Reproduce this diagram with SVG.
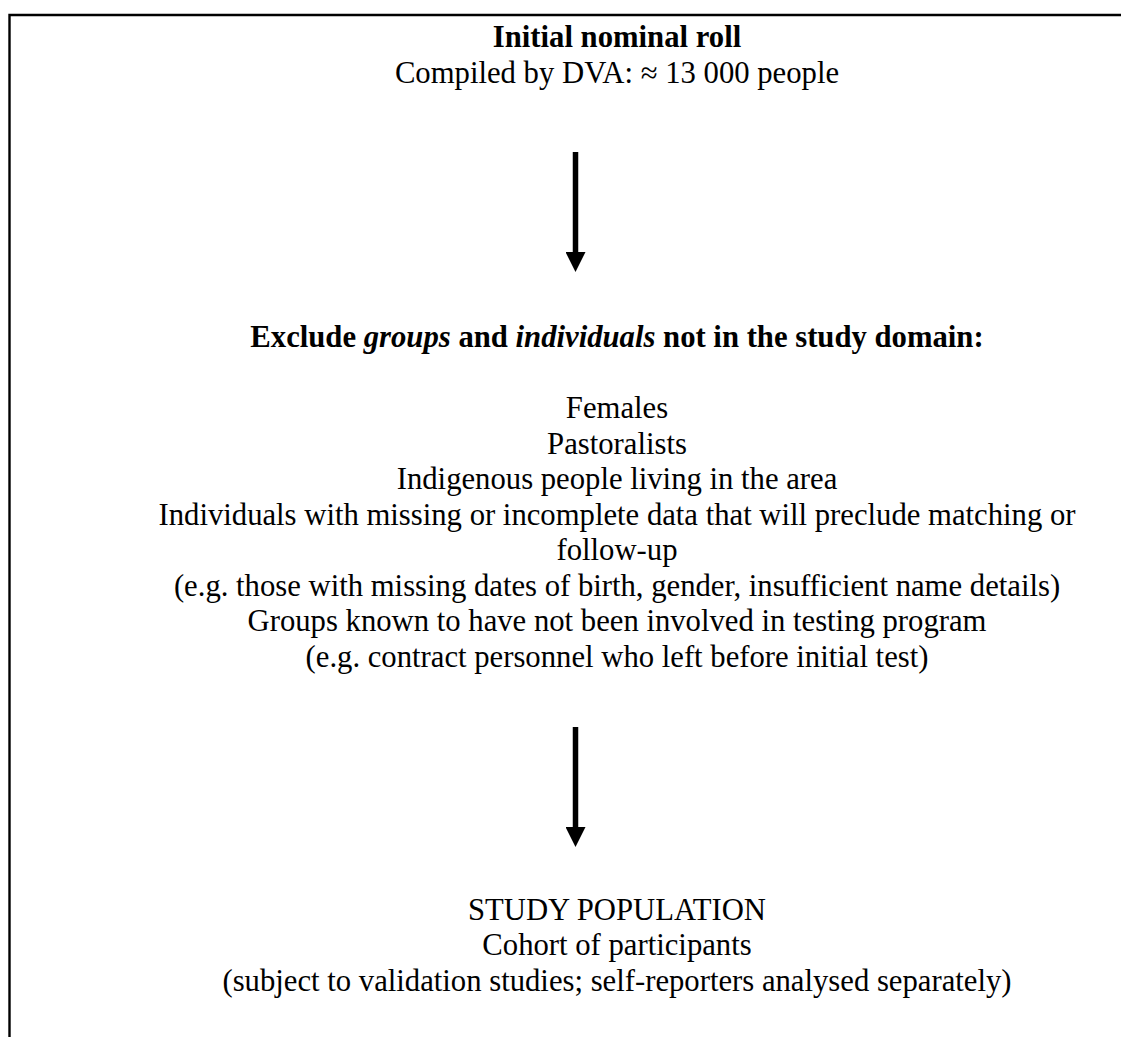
<svg xmlns="http://www.w3.org/2000/svg" width="1121" height="1037" viewBox="0 0 1121 1037">
<style>
text{font-family:"Liberation Serif","Times New Roman",serif;font-size:30.7px;fill:#000;text-anchor:middle}
.b{font-weight:bold}
.i{font-style:italic}
.border{fill:none;stroke:#000;stroke-width:2.4}
.conn{stroke:#000;stroke-width:5.5;fill:none}
</style>
<defs>
<marker id="ah" markerUnits="userSpaceOnUse" markerWidth="20" markerHeight="20" refX="0" refY="10" orient="auto">
<path d="M0,0 L20,10 L0,20 z" fill="#000"/>
</marker>
</defs>
<path class="border" d="M9.5,1037 V15 H1121"/>
<g id="node-initial">
<text x="617" y="47" class="b">Initial nominal roll</text>
<text x="617" y="83">Compiled by DVA: ≈ 13 000 people</text>
</g>
<g id="node-exclude">
<text x="617" y="347" class="b">Exclude <tspan class="i">groups</tspan> and <tspan class="i">individuals</tspan> not in the study domain:</text>
<text x="617" y="418">Females</text>
<text x="617" y="454">Pastoralists</text>
<text x="617" y="489">Indigenous people living in the area</text>
<text x="617" y="525">Individuals with missing or incomplete data that will preclude matching or</text>
<text x="617" y="560">follow-up</text>
<text x="617" y="596">(e.g. those with missing dates of birth, gender, insufficient name details)</text>
<text x="617" y="631">Groups known to have not been involved in testing program</text>
<text x="617" y="667">(e.g. contract personnel who left before initial test)</text>
</g>
<g id="node-study">
<text x="617" y="920">STUDY POPULATION</text>
<text x="617" y="955">Cohort of participants</text>
<text x="617" y="991">(subject to validation studies; self-reporters analysed separately)</text>
</g>
<g id="connectors">
<line class="conn" x1="575.5" y1="152" x2="575.5" y2="252" marker-end="url(#ah)"/>
<line class="conn" x1="575.5" y1="727" x2="575.5" y2="827" marker-end="url(#ah)"/>
</g>
</svg>
